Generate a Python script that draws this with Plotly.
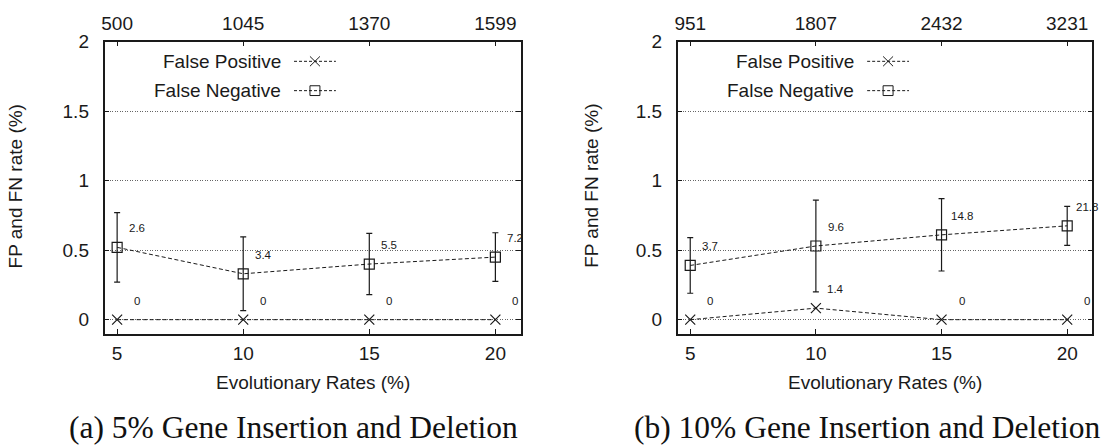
import plotly.graph_objects as go

# ---------------- data ----------------
rates = [5, 10, 15, 20]
top_labels_a = ["500", "1045", "1370", "1599"]
top_labels_b = ["951", "1807", "2432", "3231"]

fp_a = [0, 0, 0, 0]
fn_a = [0.52, 0.33, 0.40, 0.45]
fn_err_a = [0.25, 0.265, 0.22, 0.175]
fp_text_a = ["0", "0", "0", "0"]
fn_text_a = ["2.6", "3.4", "5.5", "7.2"]

fp_b = [0, 0.083, 0, 0]
fn_b = [0.39, 0.53, 0.61, 0.675]
fn_err_b = [0.20, 0.33, 0.26, 0.14]
fp_text_b = ["0", "1.4", "0", "0"]
fn_text_b = ["3.7", "9.6", "14.8", "21.8"]

captions = ["(a) 5% Gene Insertion and Deletion", "(b) 10% Gene Insertion and Deletion"]
legend_names = ["False Positive", "False Negative"]

# ---------------- layout helpers ----------------
W, H = 1102, 446
SANS = "Liberation Sans, Arial, Helvetica, sans-serif"
SERIF = "Liberation Serif, Times New Roman, serif"
FS = 19
INK = "#1a1a1a"


def px(p):
    return p / W


def py(p):
    return 1 - p / H


panels = [
    dict(left=101.8, right=519.0, xa="x", ya="y", top="x3",
         fp=fp_a, fn=fn_a, err=fn_err_a, fpt=fp_text_a, fnt=fn_text_a,
         tops=top_labels_a, cap=captions[0], capx=291, ytx=13.5),
    dict(left=676.5, right=1092.3, xa="x2", ya="y2", top="x4",
         fp=fp_b, fn=fn_b, err=fn_err_b, fpt=fp_text_b, fnt=fn_text_b,
         tops=top_labels_b, cap=captions[1], capx=866, ytx=590.5),
]
TOP, BOT = 32.3, 331.0

fig = go.Figure()
annotations = []
shapes = []
dash = "4px,2.5px"

for i, p in enumerate(panels):
    fig.add_trace(go.Scatter(
        x=rates, y=p["fp"], xaxis=p["xa"], yaxis=p["ya"], mode="lines+markers",
        line=dict(color=INK, width=1, dash=dash),
        marker=dict(symbol="x-thin-open", size=10, color=INK, line=dict(width=1.2, color=INK)),
        showlegend=False, name=legend_names[0]))
    fig.add_trace(go.Scatter(
        x=rates, y=p["fn"], xaxis=p["xa"], yaxis=p["ya"], mode="lines+markers",
        line=dict(color=INK, width=1, dash=dash),
        marker=dict(symbol="square-open", size=10, color=INK, line=dict(width=1.2, color=INK)),
        error_y=dict(type="data", array=p["err"], visible=True, color=INK, thickness=1.2, width=3),
        showlegend=False, name=legend_names[1]))
    # invisible carrier trace so the top (count) axis is drawn
    fig.add_trace(go.Scatter(
        x=rates, y=p["fn"], xaxis=p["top"], yaxis=p["ya"], mode="markers",
        marker=dict(opacity=0), hoverinfo="skip", showlegend=False))

    # value labels
    for xv, yv, t in zip(rates, p["fp"], p["fpt"]):
        annotations.append(dict(x=xv, y=yv, xref=p["xa"], yref=p["ya"], text=t, showarrow=False,
                                xshift=20, yshift=19, font=dict(family=SANS, size=11.5, color=INK)))
    for xv, yv, t in zip(rates, p["fn"], p["fnt"]):
        annotations.append(dict(x=xv, y=yv, xref=p["xa"], yref=p["ya"], text=t, showarrow=False,
                                xshift=20, yshift=19, font=dict(family=SANS, size=11.5, color=INK)))

    L = p["left"]
    # legend (gnuplot style: text then sample)
    for k, (name, ly) in enumerate(zip(legend_names, [52.5, 82.5])):
        annotations.append(dict(x=px(L + 179), y=py(ly), xref="paper", yref="paper", text=name,
                                showarrow=False, xanchor="right", yanchor="middle",
                                font=dict(family=SANS, size=FS, color=INK)))
        shapes.append(dict(type="line", xref="paper", yref="paper", x0=px(L + 190), x1=px(L + 232),
                           y0=py(ly), y1=py(ly), line=dict(color=INK, width=1, dash="3px,2px")))
        cx = L + 211
        if k == 0:
            shapes.append(dict(type="line", xref="paper", yref="paper", x0=px(cx - 5), x1=px(cx + 5),
                               y0=py(ly - 5), y1=py(ly + 5), line=dict(color=INK, width=1)))
            shapes.append(dict(type="line", xref="paper", yref="paper", x0=px(cx - 5), x1=px(cx + 5),
                               y0=py(ly + 5), y1=py(ly - 5), line=dict(color=INK, width=1)))
        else:
            shapes.append(dict(type="rect", xref="paper", yref="paper", x0=px(cx - 5), x1=px(cx + 5),
                               y0=py(ly - 5), y1=py(ly + 5), line=dict(color=INK, width=1)))

    # axis titles
    annotations.append(dict(x=px((p["left"] + p["right"]) / 2), y=py(381.5), xref="paper", yref="paper",
                            text="Evolutionary Rates (%)", showarrow=False, xanchor="center",
                            yanchor="middle", font=dict(family=SANS, size=FS, color=INK)))
    annotations.append(dict(x=px(p["ytx"]), y=py(180), xref="paper", yref="paper",
                            text="FP and FN rate (%)", showarrow=False, textangle=-90,
                            xanchor="center", yanchor="middle", font=dict(family=SANS, size=FS, color=INK)))
    # caption
    annotations.append(dict(x=px(p["capx"]), y=py(427), xref="paper", yref="paper", text=p["cap"],
                            showarrow=False, xanchor="center", yanchor="middle",
                            font=dict(family=SERIF, size=31.5, color="#111")))

    dom_x = [px(p["left"]), px(p["right"])]
    dom_y = [py(BOT), py(TOP)]
    sfx = "" if i == 0 else "2"
    fig.layout["xaxis" + sfx] = dict(
        domain=dom_x, range=[4.5, 21], anchor=p["ya"], tickvals=rates, ticktext=[str(r) for r in rates],
        ticks="inside", ticklen=5, tickwidth=1, tickcolor=INK, mirror="ticks",
        showline=True, linewidth=1.5, linecolor=INK, showgrid=False, zeroline=False,
        tickfont=dict(family=SANS, size=FS, color=INK), ticklabelstandoff=2)
    fig.layout["yaxis" + sfx] = dict(
        domain=dom_y, range=[-0.1, 2], anchor=p["xa"], tickvals=[0, 0.5, 1, 1.5, 2],
        ticktext=["0", "0.5", "1", "1.5", "2"],
        ticks="inside", ticklen=5, tickwidth=1, tickcolor=INK, mirror="ticks",
        showline=True, linewidth=1.5, linecolor=INK, showgrid=True, gridcolor="#666",
        gridwidth=1, griddash="1px,1.5px", zeroline=False,
        tickfont=dict(family=SANS, size=FS, color=INK), ticklabelstandoff=10)
    tsfx = "3" if i == 0 else "4"
    fig.layout["xaxis" + tsfx] = dict(
        overlaying=p["xa"], matches=p["xa"], side="top", anchor=p["ya"], range=[4.5, 21],
        tickvals=rates, ticktext=p["tops"], ticks="", showline=False, showgrid=False, zeroline=False,
        tickfont=dict(family=SANS, size=FS, color=INK), ticklabelstandoff=7)

fig.update_layout(
    width=W, height=H, margin=dict(l=0, r=0, t=0, b=0),
    paper_bgcolor="white", plot_bgcolor="white", showlegend=False,
    annotations=annotations, shapes=shapes,
)

fig.write_html("out.html", config={"displayModeBar": False},
               post_script="document.body.style.margin='0';")
